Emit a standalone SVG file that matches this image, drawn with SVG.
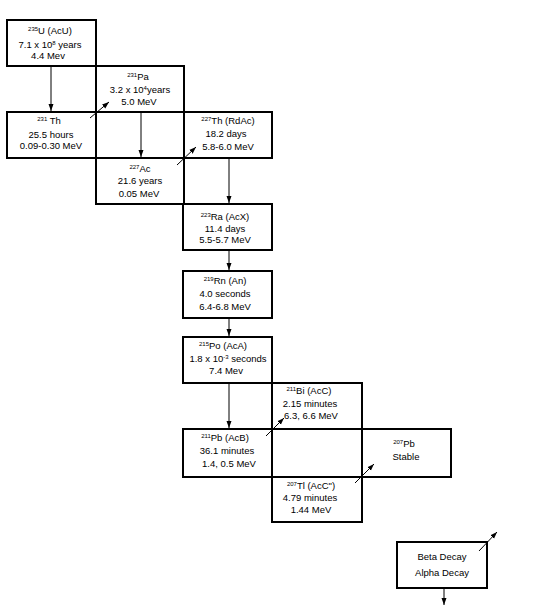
<svg xmlns="http://www.w3.org/2000/svg" width="554" height="616" viewBox="0 0 554 616">
<defs>
<style>
.box{fill:none;stroke:#000;stroke-width:2}
.arr{stroke:#000;stroke-width:1;fill:none;marker-end:url(#ah)}
text{font-family:"Liberation Sans",Arial,sans-serif;font-size:9.5px;fill:#000;text-anchor:middle}
.sup{font-size:6px}
</style>
<marker id="ah" markerUnits="userSpaceOnUse" markerWidth="7" markerHeight="6" refX="7" refY="3" orient="auto">
<path d="M0,0.5 L7,3 L0,5.5 z" fill="#000"/>
</marker>
</defs>
<rect width="554" height="616" fill="#fff"/>
<g id="u235">
<rect class="box" x="7" y="20" width="89" height="46"/>
<text x="50" y="34"><tspan class="sup" dy="-3">235</tspan><tspan dy="3">U (AcU)</tspan></text>
<text x="50" y="48">7.1 x 10<tspan class="sup" dy="-3">8</tspan><tspan dy="3"> years</tspan></text>
<text x="48" y="59">4.4 Mev</text>
</g>
<g id="pa231">
<rect class="box" x="96" y="66" width="88" height="46"/>
<text x="138" y="80"><tspan class="sup" dy="-3">231</tspan><tspan dy="3">Pa</tspan></text>
<text x="140" y="93">3.2 x 10<tspan class="sup" dy="-3">4</tspan><tspan dy="3">years</tspan></text>
<text x="139" y="105">5.0 MeV</text>
</g>
<g id="th231">
<rect class="box" x="7" y="112" width="89" height="46"/>
<text x="49" y="124"><tspan class="sup" dy="-3">231</tspan><tspan dy="3"> Th</tspan></text>
<text x="51" y="138">25.5 hours</text>
<text x="51" y="149">0.09-0.30 MeV</text>
</g>
<g id="th227">
<rect class="box" x="184" y="112" width="88" height="46"/>
<text x="228" y="124"><tspan class="sup" dy="-3">227</tspan><tspan dy="3">Th (RdAc)</tspan></text>
<text x="226" y="137">18.2 days</text>
<text x="228" y="150">5.8-6.0 MeV</text>
</g>
<g id="ac227">
<rect class="box" x="96" y="158" width="88" height="46"/>
<text x="140" y="172"><tspan class="sup" dy="-3">227</tspan><tspan dy="3">Ac</tspan></text>
<text x="140" y="184">21.6 years</text>
<text x="139" y="197">0.05 MeV</text>
</g>
<g id="ra223">
<rect class="box" x="183" y="204" width="89" height="46"/>
<text x="225" y="220"><tspan class="sup" dy="-3">223</tspan><tspan dy="3">Ra (AcX)</tspan></text>
<text x="225" y="232">11.4 days</text>
<text x="225" y="243">5.5-5.7 MeV</text>
</g>
<g id="rn219">
<rect class="box" x="183" y="271" width="89" height="47"/>
<text x="225" y="284"><tspan class="sup" dy="-3">219</tspan><tspan dy="3">Rn (An)</tspan></text>
<text x="225" y="297">4.0 seconds</text>
<text x="225" y="310">6.4-6.8 MeV</text>
</g>
<g id="po215">
<rect class="box" x="183" y="337" width="89" height="46"/>
<text x="223" y="349"><tspan class="sup" dy="-3">215</tspan><tspan dy="3">Po (AcA)</tspan></text>
<text x="228" y="362">1.8 x 10<tspan class="sup" dy="-3">-3</tspan><tspan dy="3"> seconds</tspan></text>
<text x="226" y="374">7.4 Mev</text>
</g>
<g id="bi211">
<rect class="box" x="272" y="383" width="90" height="46"/>
<text x="309" y="394"><tspan class="sup" dy="-3">211</tspan><tspan dy="3">Bi (AcC)</tspan></text>
<text x="310" y="407">2.15 minutes</text>
<text x="311" y="419">6.3, 6.6 MeV</text>
</g>
<g id="pb211">
<rect class="box" x="183" y="429" width="89" height="48"/>
<text x="225" y="441"><tspan class="sup" dy="-3">211</tspan><tspan dy="3">Pb (AcB)</tspan></text>
<text x="227" y="454">36.1 minutes</text>
<text x="229" y="467">1.4, 0.5 MeV</text>
</g>
<g id="pb207">
<rect class="box" x="362" y="429" width="89" height="48"/>
<text x="404" y="447"><tspan class="sup" dy="-3">207</tspan><tspan dy="3">Pb</tspan></text>
<text x="406" y="460">Stable</text>
</g>
<g id="tl207">
<rect class="box" x="272" y="477" width="90" height="45"/>
<text x="311" y="489"><tspan class="sup" dy="-3">207</tspan><tspan dy="3">Tl (AcC")</tspan></text>
<text x="310" y="501">4.79 minutes</text>
<text x="311" y="513">1.44 MeV</text>
</g>
<g id="legend">
<rect class="box" x="397" y="542" width="90" height="46"/>
<text x="442" y="560">Beta Decay</text>
<text x="442" y="576">Alpha Decay</text>
</g>
<g id="connectors">
<line class="arr" x1="51" y1="66" x2="51" y2="111"/>
<line class="arr" x1="90" y1="118" x2="109" y2="102"/>
<line class="arr" x1="141" y1="112" x2="141" y2="157"/>
<line class="arr" x1="177" y1="165" x2="196" y2="147"/>
<line class="arr" x1="229" y1="158" x2="229" y2="203"/>
<line class="arr" x1="229" y1="250" x2="229" y2="270"/>
<line class="arr" x1="229" y1="318" x2="229" y2="336"/>
<line class="arr" x1="229" y1="383" x2="229" y2="428"/>
<line class="arr" x1="266" y1="436" x2="284" y2="418"/>
<line class="arr" x1="355" y1="483" x2="374" y2="464"/>
<line class="arr" x1="479" y1="551" x2="497" y2="532"/>
<line class="arr" x1="444" y1="588" x2="444" y2="605"/>
</g>
</svg>
